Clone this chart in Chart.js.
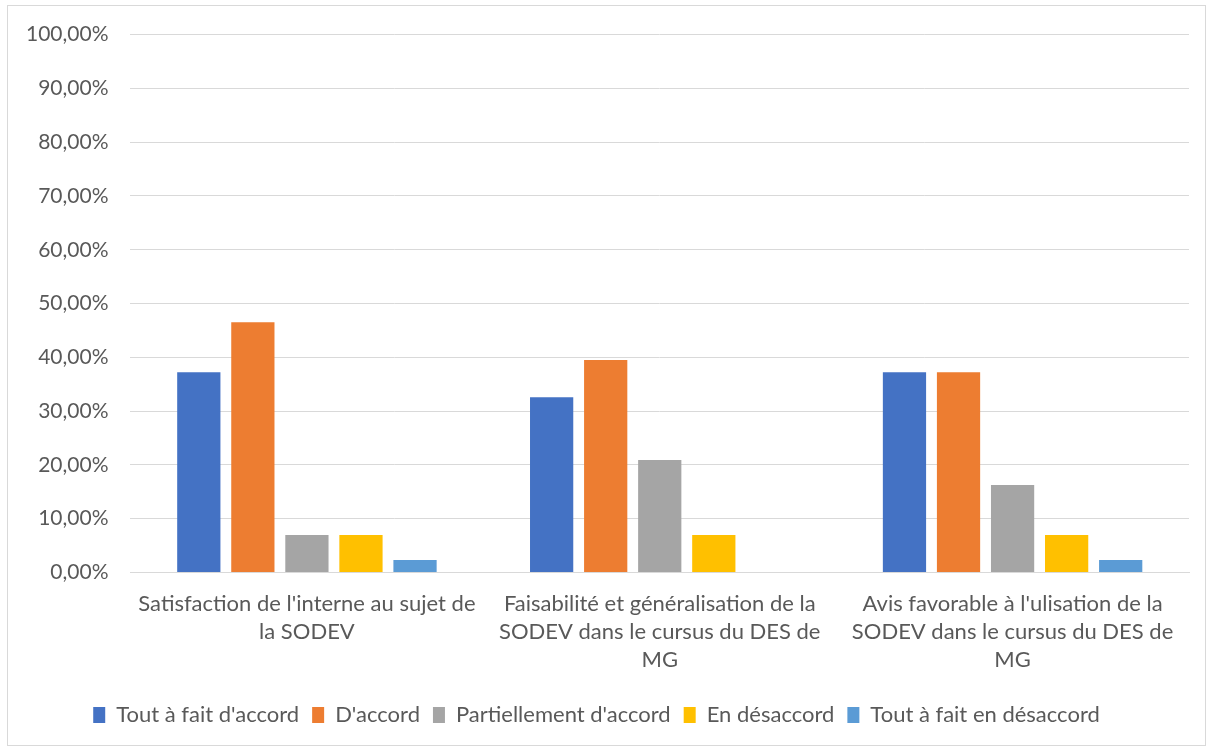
<!DOCTYPE html>
<html><head><meta charset="utf-8">
<script src="https://cdn.jsdelivr.net/npm/chart.js@4/dist/chart.umd.min.js"></script>
<style>
html,body{margin:0;padding:0;background:#fff;}
#wrap{position:relative;width:1213px;height:749px;}
#frame{position:absolute;left:7px;top:5px;width:1197px;height:739px;border:1px solid #d9d9d9;pointer-events:none;}
</style></head>
<body>
<div id="wrap"><canvas id="c" width="1213" height="749"></canvas><div id="frame"></div></div>
<script>
const categories = [
  ["Satisfaction de l'interne au sujet de", "la SODEV"],
  ["Faisabilité et généralisation de la", "SODEV dans le cursus du DES de", "MG"],
  ["Avis favorable à l'ulisation de la", "SODEV dans le cursus du DES de", "MG"]
];
const seriesNames = ["Tout à fait d'accord", "D'accord", "Partiellement d'accord", "En désaccord", "Tout à fait en désaccord"];
const toutAFaitDaccord = [37.21, 32.56, 37.21];
const daccord = [46.51, 39.53, 37.21];
const partiellement = [6.98, 20.93, 16.28];
const enDesaccord = [6.98, 6.98, 6.98];
const toutAFaitEnDesaccord = [2.33, 0, 2.33];
const colors = ["#4472c4", "#ed7d31", "#a5a5a5", "#ffc000", "#5b9bd5"];
const yTicks = [0,10,20,30,40,50,60,70,80,90,100];

const seriesData = [toutAFaitDaccord, daccord, partiellement, enDesaccord, toutAFaitEnDesaccord];
const fam = "Lato, 'Open Sans', sans-serif";
new Chart(document.getElementById('c'), {
  type: 'bar',
  data: {
    labels: categories,
    datasets: seriesNames.map((n, i) => ({
      label: n, data: seriesData[i], backgroundColor: colors[i],
      barPercentage: 0.8, categoryPercentage: 0.766
    }))
  },
  options: {
    responsive: false, animation: false,
    layout: {padding: {left: 4, right: 24, top: 22, bottom: 13}},
    plugins: {
      tooltip: {enabled: false},
      legend: {position: 'bottom',
        labels: {color: '#595959', font: {family: fam, size: 22}, boxWidth: 12, boxHeight: 16, padding: 13}}
    },
    scales: {
      x: {
        grid: {display: false, drawTicks: false},
        border: {color: '#d9d9d9', width: 1},
        ticks: {color: '#595959', font: {family: fam, size: 22, lineHeight: 1.28}, padding: 17, maxRotation: 0, autoSkip: false}
      },
      y: {
        min: 0, max: 100,
        afterBuildTicks: ax => { ax.ticks = yTicks.map(v => ({value: v})); },
        grid: {color: '#d9d9d9', drawTicks: false},
        border: {display: false},
        ticks: {color: '#595959', font: {family: fam, size: 21}, padding: 22,
          callback: v => v.toFixed(2).replace('.', ',') + '%'}
      }
    }
  }
});
</script>
</body></html>
